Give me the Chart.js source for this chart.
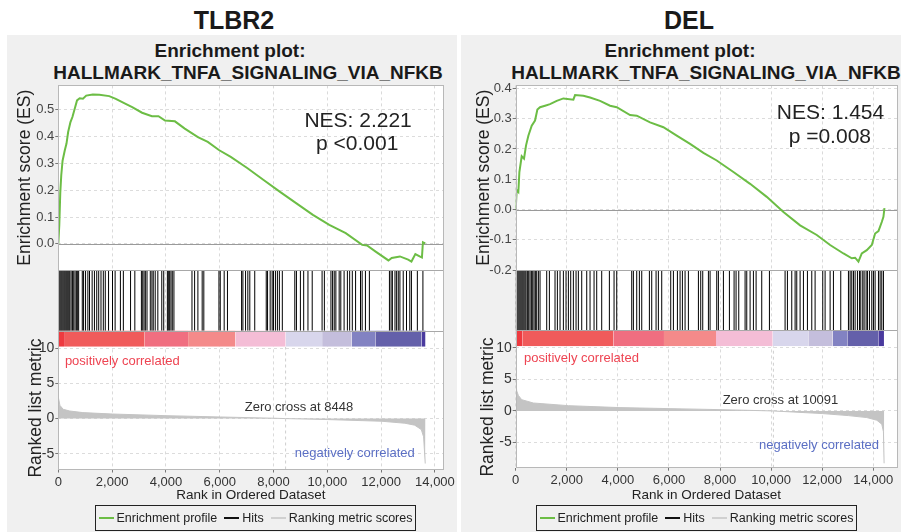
<!DOCTYPE html>
<html>
<head>
<meta charset="utf-8">
<script src="https://cdn.jsdelivr.net/npm/chart.js@4.4.1/dist/chart.umd.min.js"></script>
<style>
  body { margin: 0; background: #fff; font-family: 'Liberation Sans', Arial, Helvetica, sans-serif; }
  #page { position: relative; width: 901px; height: 532px; overflow: hidden; }
  .panel { position: absolute; top: 35px; height: 497px; background: #f0f0f0; }
  .txt { position: absolute; white-space: nowrap; transform: translateX(-50%); line-height: 1; color: #1a1a1a; font-weight: bold; }
  canvas { position: absolute; }
  .legend { position: absolute; top: 505px; width: 321px; height: 26px; border: 1px solid #222; box-sizing: border-box;
            display: flex; align-items: center; justify-content: center; font-size: 12.5px; color: #222; }
  .legend .ln { display: inline-block; width: 15px; height: 2px; margin: 0 3px 0 7px; }
  .legend .ln:first-child { margin-left: 0; }
</style>
</head>
<body>
<div id="page">
  <div class="panel" style="left:7px;width:450px"></div>
  <div class="panel" style="left:461px;width:440px"></div>

  <div class="txt" style="left:234px;top:8px;font-size:25px">TLBR2</div>
  <div class="txt" style="left:689px;top:8px;font-size:25px">DEL</div>
  <div class="txt" style="left:230px;top:41px;font-size:19px">Enrichment plot:</div>
  <div class="txt" style="left:248px;top:63px;font-size:19px">HALLMARK_TNFA_SIGNALING_VIA_NFKB</div>
  <div class="txt" style="left:680px;top:41px;font-size:19px">Enrichment plot:</div>
  <div class="txt" style="left:706px;top:63px;font-size:19px">HALLMARK_TNFA_SIGNALING_VIA_NFKB</div>

  <canvas id="chartTlbr2" width="450" height="430" style="left:7px;top:76px"></canvas>
  <canvas id="chartDel" width="440" height="430" style="left:461px;top:76px"></canvas>

  <div class="legend" id="legendTlbr2" style="left:95px"></div>
  <div class="legend" id="legendDel" style="left:536px"></div>
</div>

<script>
// ---- data ----
const legendLabels = ['Enrichment profile', 'Hits', 'Ranking metric scores'];
const legendColors = ['#6cbd45', '#111', '#d0d0d0'];
const xTicks = [0, 2000, 4000, 6000, 8000, 10000, 12000, 14000];
const rankTicks = [-5, 0, 5, 10];
const barColors = ['#ee3a40', '#f05b5b', '#f06e80', '#f48a8a', '#f4bdd6', '#d8d6ec', '#c4bedc', '#8282c2', '#6460aa', '#4a3a9e'];

// TLBR2: enrichment profile [rank, ES]
const tlbr2EsTicks = [0, 0.1, 0.2, 0.3, 0.4, 0.5];
const tlbr2Es = [[0,0],[37,0.07],[73,0.19],[110,0.256],[159,0.31],[244,0.35],[305,0.374],[366,0.417],[452,0.454],
  [525,0.473],[610,0.504],[696,0.535],[794,0.543],[916,0.541],[1038,0.553],[1282,0.557],[1526,0.556],[1893,0.551],
  [2137,0.541],[2503,0.522],[2747,0.51],[3114,0.489],[3480,0.476],[3724,0.476],[3968,0.46],[4335,0.457],[4701,0.43],
  [5189,0.398],[5556,0.38],[5983,0.349],[6410,0.324],[7021,0.283],[7631,0.238],[8242,0.194],[8852,0.151],[9463,0.108],
  [10073,0.071],[10684,0.04],[11294,-0.004],[11477,-0.006],[11783,-0.028],[12271,-0.062],[12393,-0.053],[12698,-0.047],
  [13004,-0.059],[13126,-0.066],[13272,-0.038],[13431,-0.047],[13516,-0.051],[13553,0.006],[13639,0.002]];
const tlbr2Hits = [24,61,98,134,171,208,244,281,317,354,391,427,476,525,574,623,672,720,757,891,940,1013,1099,1160,
  1258,1343,1429,1502,1587,1673,1746,1868,2015,2112,2308,2418,2686,2845,3089,3138,3187,3236,3297,3419,3480,3529,3602,
  3700,3846,3919,4054,4090,4139,4188,4237,4298,4969,5067,5189,5348,5409,5971,6020,6166,6288,6813,6862,6960,7045,7118,
  7302,7729,7778,7875,7949,7998,8071,8144,8217,8327,8791,8852,8999,9121,9280,9438,9805,9890,10134,10195,10256,10317,
  10440,10501,10623,10745,10830,10928,11050,11233,11294,11416,11563,12308,12369,12418,12515,12576,12637,12698,12821,
  12943,13065,13126,13346,13553];
const tlbr2Metric = [[0,3.06],[61,1.88],[183,1.32],[427,1.08],[916,0.85],[2015,0.65],[3968,0.42],[6020,0.23],[8022,0.05],
  [8448,0],[10012,-0.14],[12027,-0.38],[12882,-0.66],[13248,-0.94],[13492,-1.56],[13578,-2.6],[13639,-6.4],[13650,-6.4]];
const tlbr2BarEdges = [0,245,3212,4824,6582,8450,9806,10905,11784,13505,13650];
const tlbr2ZeroCross = 8448;
const tlbr2Nes = ['NES: 2.221', 'p <0.001'];

// DEL
const delEsTicks = [-0.2, -0.1, 0, 0.1, 0.2, 0.3, 0.4];
const delEs = [[0,0],[39,0.064],[104,0.058],[144,0.124],[235,0.176],[326,0.168],[405,0.212],[496,0.244],[627,0.277],
  [757,0.294],[849,0.33],[953,0.338],[1149,0.343],[1345,0.348],[1606,0.359],[1867,0.367],[2258,0.363],[2324,0.378],
  [2650,0.376],[2911,0.37],[3303,0.359],[3695,0.343],[3956,0.338],[4478,0.312],[4739,0.31],[5261,0.288],[5783,0.272],
  [6305,0.244],[6828,0.217],[7350,0.187],[7872,0.162],[8525,0.124],[9178,0.085],[9830,0.042],[10483,-0.008],
  [11136,-0.052],[11789,-0.084],[12311,-0.117],[12833,-0.145],[13159,-0.161],[13290,-0.159],[13420,-0.172],
  [13551,-0.145],[13747,-0.134],[13943,-0.117],[14073,-0.079],[14204,-0.071],[14334,-0.041],[14399,-0.024],[14439,0.005]];
const delHits = [13,52,91,131,170,209,248,287,326,366,405,457,509,561,614,666,718,770,822,888,953,1214,1319,1540,1632,
  1736,1867,1971,2063,2154,2258,2363,2454,2585,2781,2911,3068,3172,3368,3668,3851,3956,4543,4608,4739,4843,4935,5235,
  5326,5496,5587,5718,6070,6175,6332,6436,6527,6632,6762,7154,7245,7324,7546,7611,7872,7937,8133,8368,8551,8629,8734,
  8982,9047,9178,9308,9413,9634,9935,10548,10640,10809,10940,11005,11136,11266,11423,11593,11723,12023,12115,12311,
  12441,12728,13029,13094,13159,13225,13290,13381,13460,13512,13590,13642,13721,13773,13851,13943,14008,14073,14204,
  14269,14334,14399];
const delMetric = [[0,5.1],[39,3.2],[104,2.47],[235,1.79],[692,1.26],[2063,0.84],[4086,0.53],[6044,0.37],[8003,0.21],
  [10091,0],[12023,-0.42],[13029,-0.74],[13747,-1.05],[14139,-1.47],[14334,-2.1],[14399,-3.3],[14425,-8.3],[14430,-8.3]];
const delBarEdges = [0,274,3821,5806,7843,10063,11457,12412,12984,14197,14420];
const delZeroCross = 10091;
const delNes = ['NES: 1.454', 'p =0.008'];

Chart.defaults.font.family = "'Liberation Sans', Arial, Helvetica, sans-serif";
Chart.defaults.color = '#333';

// white plot area, lines between the three stacked plots, zero line and outer frame
const framePlugin = {
  id: 'frame',
  beforeDraw(chart) {
    const { ctx, chartArea: a } = chart;
    ctx.save();
    ctx.fillStyle = '#fff';
    ctx.fillRect(a.left, a.top, a.right - a.left, a.bottom - a.top);
    ctx.restore();
  },
  beforeDatasetsDraw(chart) {
    const { ctx, chartArea: a, scales } = chart;
    const y0 = Math.round(scales.yES.getPixelForValue(0)) + 0.5;
    ctx.save();
    ctx.strokeStyle = '#9a9a9a';
    ctx.lineWidth = 1;
    ctx.beginPath(); ctx.moveTo(a.left, y0); ctx.lineTo(a.right, y0); ctx.stroke();
    ctx.restore();
  },
  afterDatasetsDraw(chart) {
    const { ctx, chartArea: a, scales } = chart;
    ctx.save();
    ctx.strokeStyle = '#a8a8a8';
    ctx.lineWidth = 1;
    [scales.yES.bottom, scales.yHits.bottom].forEach(y => {
      const yy = Math.round(y) + 0.5;
      ctx.beginPath(); ctx.moveTo(a.left, yy); ctx.lineTo(a.right, yy); ctx.stroke();
    });
    ctx.strokeStyle = '#b8b8b8';
    ctx.strokeRect(Math.round(a.left) + 0.5, Math.round(a.top) + 0.5, Math.round(a.right - a.left), Math.round(a.bottom - a.top));
    ctx.restore();
  }
};

// text labels placed in data coordinates
const textPlugin = {
  id: 'gseaText',
  afterDatasetsDraw(chart, args, opts) {
    const ctx = chart.ctx;
    ctx.save();
    (opts.items || []).forEach(t => {
      const px = chart.scales.x.getPixelForValue(t.x);
      const py = chart.scales[t.axis].getPixelForValue(t.y);
      ctx.font = t.size + "px 'Liberation Sans', Arial, sans-serif";
      ctx.fillStyle = t.color;
      ctx.textAlign = t.align;
      ctx.textBaseline = 'alphabetic';
      ctx.fillText(t.text, px, py);
    });
    ctx.restore();
  }
};

const setTicks = list => (s => { s.ticks = list.map(v => ({ value: v })); });

function makePanel(id, p) {
  const datasets = [];
  datasets.push({
    label: legendLabels[0], yAxisID: 'yES',
    data: p.es.map(d => ({ x: d[0], y: d[1] })),
    borderColor: legendColors[0], borderWidth: 2, pointRadius: 0, fill: false
  });
  const hitData = [];
  p.hits.forEach(r => { hitData.push({ x: r, y: 0 }, { x: r, y: 1 }, { x: r, y: null }); });
  datasets.push({
    label: legendLabels[1], yAxisID: 'yHits', data: hitData,
    borderColor: '#000', borderWidth: 1, pointRadius: 0, fill: false, spanGaps: false
  });
  datasets.push({
    label: 'zero cross', yAxisID: 'yRank',
    data: [{ x: p.zeroCross, y: p.rankMin }, { x: p.zeroCross, y: p.rankMax }],
    borderColor: '#cfcfcf', borderWidth: 1, borderDash: [3, 3], pointRadius: 0, fill: false
  });
  datasets.push({
    label: legendLabels[2], yAxisID: 'yRank',
    data: p.metric.map(d => ({ x: d[0], y: d[1] })),
    borderColor: '#c4c4c4', backgroundColor: '#c4c4c4', borderWidth: 1, pointRadius: 0, fill: 'origin'
  });
  barColors.forEach((c, i) => {
    datasets.push({
      label: 'bar' + i, yAxisID: 'yBar',
      data: [{ x: p.barEdges[i], y: 1 }, { x: p.barEdges[i + 1], y: 1 }],
      borderColor: c, backgroundColor: c, borderWidth: 1, pointRadius: 0, fill: 'origin'
    });
  });

  const fixW = s => { s.width = p.axisW; };
  const plainAxis = (weight, sw) => ({
    type: 'linear', position: 'left', stack: 'gsea', stackWeight: sw, weight: weight, min: 0, max: 1,
    ticks: { display: false }, grid: { display: false }, border: { display: false }, afterFit: fixW
  });

  return new Chart(document.getElementById(id), {
    type: 'line',
    data: { datasets },
    options: {
      responsive: false,
      animation: false,
      events: [],
      layout: { autoPadding: false, padding: { left: 0, top: 7.3, right: p.padRight, bottom: 0 } },
      plugins: {
        legend: { display: false },
        tooltip: { enabled: false },
        gseaText: { items: p.texts }
      },
      scales: {
        x: {
          type: 'linear', position: 'bottom', min: 0, max: p.xMax,
          afterBuildTicks: setTicks(xTicks),
          ticks: { autoSkip: false, maxRotation: 0, color: '#333',
                   font: { size: 13 }, padding: 2, callback: v => v.toLocaleString('en-US') },
          grid: { color: '#dadada', tickColor: '#777', tickLength: 3 },
          border: { display: false, dash: [3, 3] },
          title: { display: true, text: 'Rank in Ordered Dataset', color: '#222', font: { size: 13.5 }, padding: { top: 0, bottom: 3 } },
          afterFit: s => { s.height = p.xAxisH; }
        },
        yES: {
          type: 'linear', position: 'left', stack: 'gsea', stackWeight: p.weights[0], weight: 4,
          min: p.esMin, max: p.esMax,
          afterBuildTicks: setTicks(p.esTicks),
          ticks: { autoSkip: false, color: '#444', font: { size: 13 }, padding: 1, callback: v => v.toFixed(1) },
          grid: { color: '#dcdcdc', tickColor: '#777', tickLength: 3 },
          border: { display: false, dash: [3, 3] },
          title: { display: true, text: 'Enrichment score (ES)', color: '#222', font: { size: 17.5 }, padding: { top: p.esTitlePad, bottom: 0 } },
          afterFit: fixW
        },
        yHits: plainAxis(3, p.weights[1]),
        yBar: plainAxis(2, p.weights[2]),
        yRank: {
          type: 'linear', position: 'left', stack: 'gsea', stackWeight: p.weights[3], weight: 1,
          min: p.rankMin, max: p.rankMax,
          afterBuildTicks: setTicks(rankTicks),
          ticks: { autoSkip: false, color: '#333', font: { size: 14 }, padding: 1, callback: v => String(v) },
          grid: { color: '#dcdcdc', tickColor: '#777', tickLength: 3 },
          border: { display: false, dash: [3, 3] },
          title: { display: true, text: 'Ranked list metric', color: '#222', font: { size: 17.5 }, padding: { top: p.rankTitlePad, bottom: 0 } },
          afterFit: fixW
        }
      }
    },
    plugins: [framePlugin, textPlugin]
  });
}

function makeLegend(id) {
  const box = document.getElementById(id);
  legendLabels.forEach((lab, i) => {
    const ln = document.createElement('span');
    ln.className = 'ln';
    ln.style.background = legendColors[i];
    const tx = document.createElement('span');
    tx.textContent = lab;
    box.appendChild(ln);
    box.appendChild(tx);
  });
}

makePanel('chartTlbr2', {
  es: tlbr2Es, esTicks: tlbr2EsTicks, hits: tlbr2Hits, metric: tlbr2Metric, barEdges: tlbr2BarEdges, zeroCross: tlbr2ZeroCross,
  xMax: 14320, esMin: -0.098, esMax: 0.591, rankMin: -7.25, rankMax: 10.24,
  weights: [185.7, 61, 16, 123.5], axisW: 51.3, xAxisH: 36.5, padRight: 7.7, esTitlePad: 8, rankTitlePad: 18.3,
  texts: [
    { x: 11143, y: 0.436, axis: 'yES', text: tlbr2Nes[0], color: '#222', size: 21, align: 'center' },
    { x: 11110, y: 0.35, axis: 'yES', text: tlbr2Nes[1], color: '#222', size: 21, align: 'center' },
    { x: 245, y: 7.69, axis: 'yRank', text: 'positively correlated', color: '#ee4452', size: 13, align: 'left' },
    { x: 8945, y: 1.08, axis: 'yRank', text: 'Zero cross at ' + tlbr2ZeroCross, color: '#333', size: 13, align: 'center' },
    { x: 13249, y: -5.52, axis: 'yRank', text: 'negatively correlated', color: '#5b6fc4', size: 13, align: 'right' }
  ]
});

makePanel('chartDel', {
  es: delEs, esTicks: delEsTicks, hits: delHits, metric: delMetric, barEdges: delBarEdges, zeroCross: delZeroCross,
  xMax: 14930, esMin: -0.2, esMax: 0.41, rankMin: -9, rankMax: 10.25,
  weights: [185.7, 60.3, 16.3, 122], axisW: 54.7, xAxisH: 38.3, padRight: 4, esTitlePad: 12.3, rankTitlePad: 16.3,
  texts: [
    { x: 12326, y: 0.299, axis: 'yES', text: delNes[0], color: '#222', size: 21, align: 'center' },
    { x: 12300, y: 0.219, axis: 'yES', text: delNes[1], color: '#222', size: 21, align: 'center' },
    { x: 325, y: 7.73, axis: 'yRank', text: 'positively correlated', color: '#ee4452', size: 13, align: 'left' },
    { x: 10368, y: 1.17, axis: 'yRank', text: 'Zero cross at ' + delZeroCross, color: '#333', size: 13, align: 'center' },
    { x: 14225, y: -6.09, axis: 'yRank', text: 'negatively correlated', color: '#5b6fc4', size: 13, align: 'right' }
  ]
});

makeLegend('legendTlbr2');
makeLegend('legendDel');
</script>
</body>
</html>
